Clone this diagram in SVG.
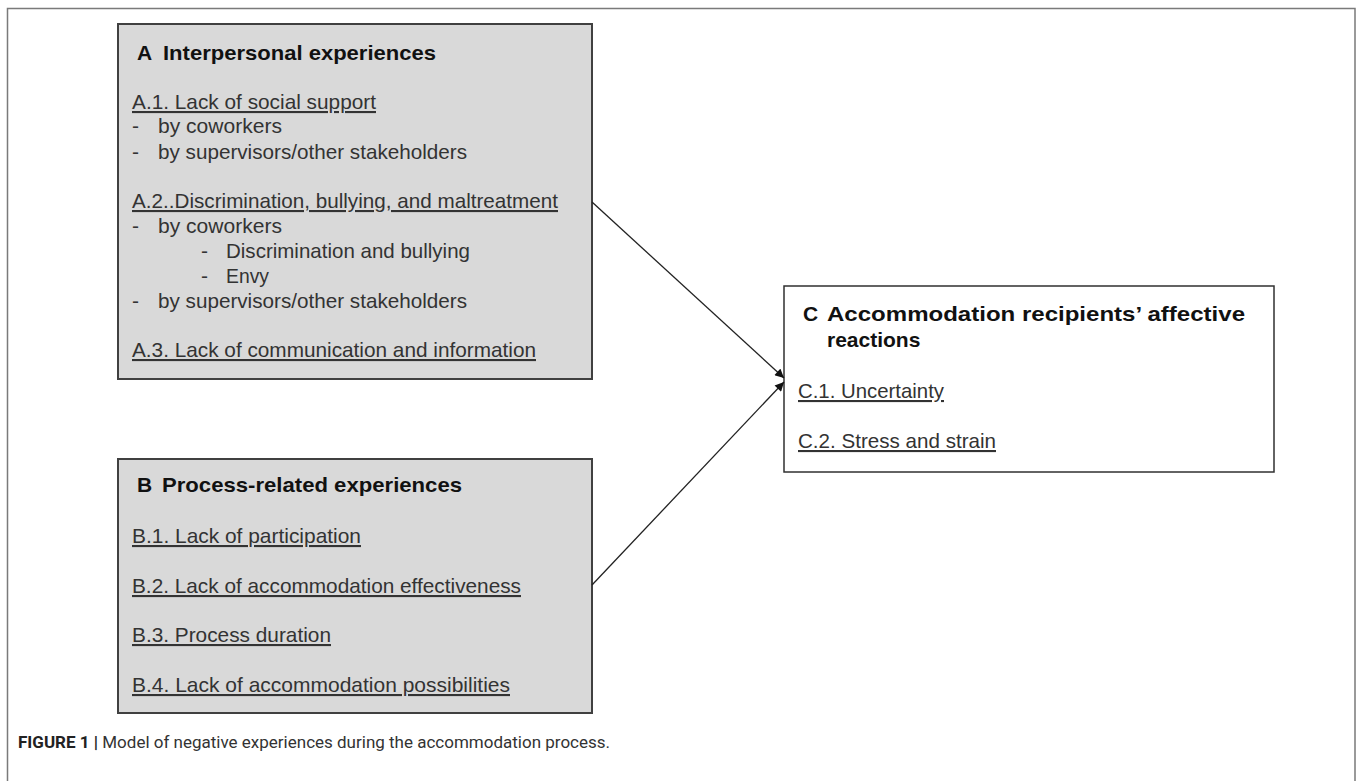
<svg xmlns="http://www.w3.org/2000/svg" width="1357" height="781" viewBox="0 0 1357 781">
<defs>
<style>
.frame{fill:none;stroke:#7a7a7a;stroke-width:1.5}
.box{fill:#d9d9d9;stroke:#404040;stroke-width:2}
.boxw{fill:#ffffff;stroke:#303030;stroke-width:1.5}
.t{font-family:"Liberation Sans",Arial,sans-serif;font-size:21px;font-weight:bold;fill:#111}
.b{font-family:"Liberation Sans",Arial,sans-serif;font-size:21px;fill:#333}
.u{text-decoration:underline}
.cap{font-family:Roboto,"Liberation Sans",sans-serif;font-size:17px;fill:#333}
.conn{stroke:#222;stroke-width:1.3;fill:none}
</style>
<marker id="ah" viewBox="0 0 10 10" refX="10" refY="5" markerWidth="10" markerHeight="9" markerUnits="userSpaceOnUse" orient="auto">
<path d="M0,0 L10,5 L0,10 z" fill="#111"/>
</marker>
</defs>
<rect width="1357" height="781" fill="#ffffff"/>
<path class="frame" d="M7.5,781 V8.5 H1355 V781"/>

<g id="nodeA">
<rect class="box" x="118" y="24" width="474" height="355"/>
<text class="t" x="137" y="60">A</text>
<text class="t" x="163" y="60" textLength="273" lengthAdjust="spacingAndGlyphs">Interpersonal  experiences</text>
<text class="b u" x="132" y="109" textLength="244" lengthAdjust="spacingAndGlyphs">A.1. Lack of social support</text>
<text class="b" x="132" y="133">-</text>
<text class="b" x="158" y="133" textLength="124" lengthAdjust="spacingAndGlyphs">by coworkers</text>
<text class="b" x="132" y="159">-</text>
<text class="b" x="158" y="159" textLength="309" lengthAdjust="spacingAndGlyphs">by supervisors/other stakeholders</text>
<text class="b u" x="132" y="208" textLength="426" lengthAdjust="spacingAndGlyphs">A.2..Discrimination, bullying,  and maltreatment</text>
<text class="b" x="132" y="233">-</text>
<text class="b" x="158" y="233" textLength="124" lengthAdjust="spacingAndGlyphs">by coworkers</text>
<text class="b" x="201" y="258">-</text>
<text class="b" x="226" y="258" textLength="244" lengthAdjust="spacingAndGlyphs">Discrimination and bullying</text>
<text class="b" x="201" y="283">-</text>
<text class="b" x="226" y="283" textLength="43" lengthAdjust="spacingAndGlyphs">Envy</text>
<text class="b" x="132" y="308">-</text>
<text class="b" x="158" y="308" textLength="309" lengthAdjust="spacingAndGlyphs">by supervisors/other stakeholders</text>
<text class="b u" x="132" y="357" textLength="404" lengthAdjust="spacingAndGlyphs">A.3. Lack of communication and information</text>
</g>

<g id="nodeB">
<rect class="box" x="118" y="459" width="474" height="254"/>
<text class="t" x="137" y="492">B</text>
<text class="t" x="162" y="492" textLength="300" lengthAdjust="spacingAndGlyphs">Process-related  experiences</text>
<text class="b u" x="132" y="543" textLength="229" lengthAdjust="spacingAndGlyphs">B.1. Lack of participation</text>
<text class="b u" x="132" y="593" textLength="389" lengthAdjust="spacingAndGlyphs">B.2. Lack of accommodation effectiveness</text>
<text class="b u" x="132" y="642" textLength="199" lengthAdjust="spacingAndGlyphs">B.3. Process duration</text>
<text class="b u" x="132" y="692" textLength="378" lengthAdjust="spacingAndGlyphs">B.4. Lack of accommodation possibilities</text>
</g>

<g id="nodeC">
<rect class="boxw" x="784" y="286" width="490" height="186"/>
<text class="t" x="803" y="321">C</text>
<text class="t" x="827" y="321" textLength="418" lengthAdjust="spacingAndGlyphs">Accommodation  recipients’  affective</text>
<text class="t" x="827" y="347">reactions</text>
<text class="b u" x="798" y="398" textLength="146" lengthAdjust="spacingAndGlyphs">C.1. Uncertainty</text>
<text class="b u" x="798" y="448" textLength="198" lengthAdjust="spacingAndGlyphs">C.2. Stress and strain</text>
</g>

<g id="connectors">
<line class="conn" x1="592" y1="202" x2="784" y2="378" marker-end="url(#ah)"/>
<line class="conn" x1="592" y1="585" x2="784" y2="382" marker-end="url(#ah)"/>
</g>

<g id="caption">
<text class="cap" x="18" y="748"><tspan font-weight="bold" fill="#222">FIGURE 1 |</tspan> Model of negative experiences during the accommodation process.</text>
</g>
</svg>
